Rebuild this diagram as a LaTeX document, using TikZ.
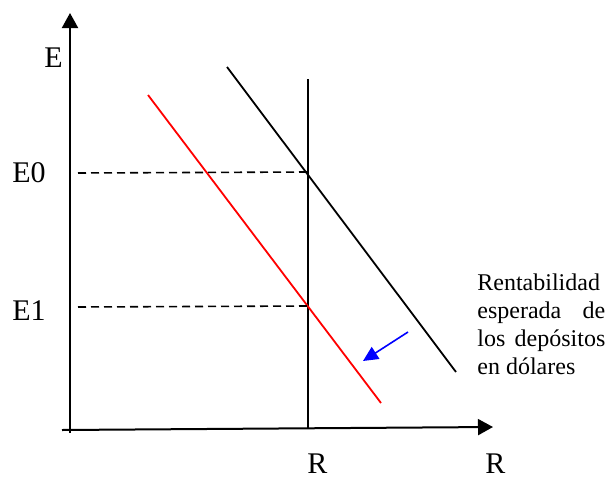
\documentclass[tikz,border=0pt]{standalone}
\usepackage{fontspec}
\setmainfont{Liberation Serif}
\usetikzlibrary{arrows.meta}
\definecolor{arrblue}{RGB}{0,0,255}
\definecolor{curvered}{RGB}{255,0,0}
\begin{document}
\begin{tikzpicture}[x=0.5pt,y=-0.5pt,
  axisline/.style={line width=1pt,-{Triangle[width=8pt,length=7.5pt]}},
  plainline/.style={line width=0.9pt},
  guideline/.style={line width=0.8pt,dash pattern=on 4pt off 2.5pt},
  biglabel/.style={inner sep=0pt,font=\fontsize{15}{18}\selectfont},
  smalltext/.style={inner sep=0pt,text width=64pt,align=justify,font=\fontsize{12}{14}\selectfont}]
\useasboundingbox (0,0) rectangle (610,477);
% coordinates
\coordinate (yb) at (70,433);
\coordinate (yt) at (70,13);
\coordinate (xl) at (62,430);
\coordinate (xr) at (493,427);
\coordinate (vt) at (308,79);
\coordinate (vb) at (308,428);
\coordinate (bt) at (227,67);
\coordinate (bb) at (456,372);
\coordinate (rt) at (148,95);
\coordinate (rb) at (381,403);
\coordinate (d0a) at (78,173);
\coordinate (d0b) at (308,172);
\coordinate (d1a) at (78,307);
\coordinate (d1b) at (308,306);
\coordinate (ba) at (408,332);
\coordinate (bz) at (363,361);
% axes
\draw[axisline] (yb) -- (yt);
\draw[axisline] (xl) -- (xr);
% lines
\draw[plainline] (vt) -- (vb);
\draw[plainline] (bt) -- (bb);
\draw[plainline,curvered] (rt) -- (rb);
\draw[guideline] (d0a) -- (d0b);
\draw[guideline] (d1a) -- (d1b);
\draw[line width=0.8pt,arrblue,-{Triangle[width=7pt,length=7.5pt]}] (ba) -- (bz);
% labels
\node[biglabel,anchor=base east] (lE) at (63,67) {E};
\node[biglabel,anchor=base west] (lE0) at (12,182) {E0};
\node[biglabel,anchor=base west] (lE1) at (12,320) {E1};
\node[biglabel,anchor=base west] (lR1) at (307,473) {R};
\node[biglabel,anchor=base west] (lR2) at (485,473) {R};
\node[smalltext,anchor=base west] (txt) at (477,290) {Rentabilidad\linebreak esperada de\linebreak los depósitos\linebreak en dólares};
\end{tikzpicture}
\end{document}
